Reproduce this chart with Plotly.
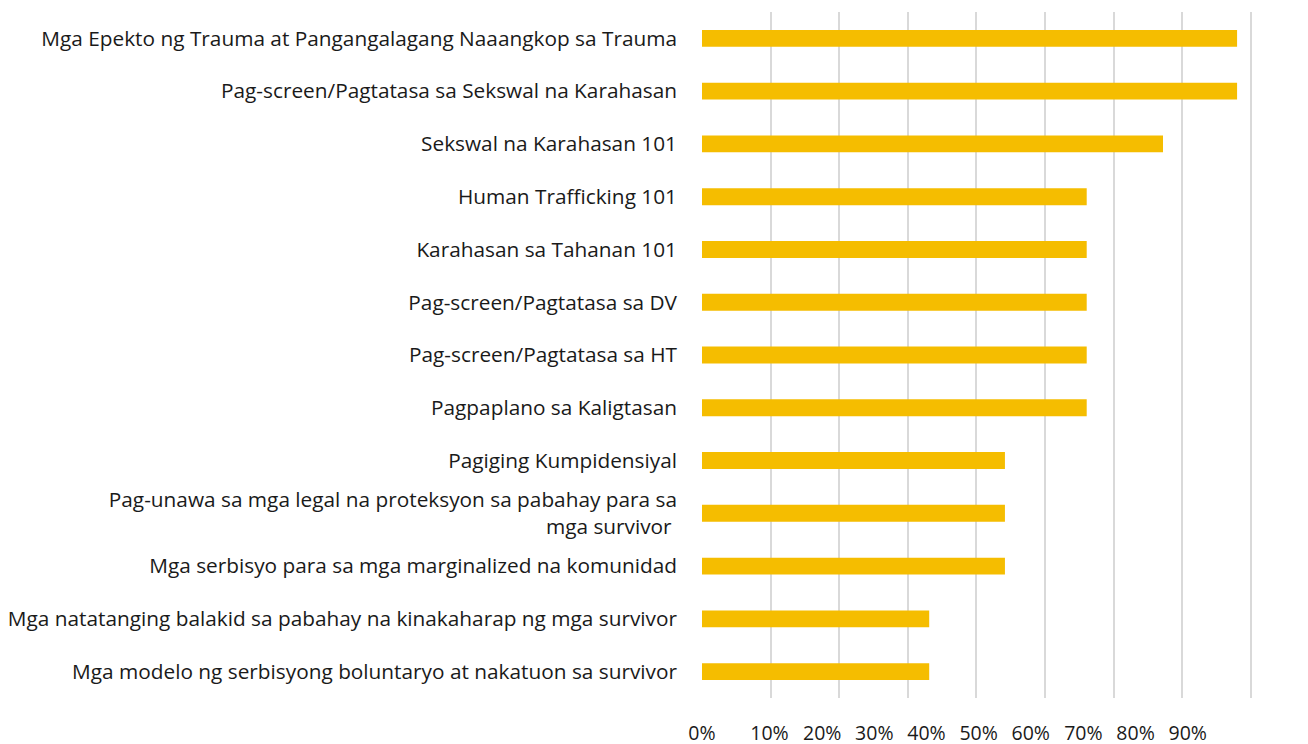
import plotly.graph_objects as go

categories = [
    "Mga Epekto ng Trauma at Pangangalagang Naaangkop sa Trauma",
    "Pag-screen/Pagtatasa sa Sekswal na Karahasan",
    "Sekswal na Karahasan 101",
    "Human Trafficking 101",
    "Karahasan sa Tahanan 101",
    "Pag-screen/Pagtatasa sa DV",
    "Pag-screen/Pagtatasa sa HT",
    "Pagpaplano sa Kaligtasan",
    "Pagiging Kumpidensiyal",
    "Pag-unawa sa mga legal na proteksyon sa pabahay para sa<br>mga survivor ",
    "Mga serbisyo para sa mga marginalized na komunidad",
    "Mga natatanging balakid sa pabahay na kinakaharap ng mga survivor",
    "Mga modelo ng serbisyong boluntaryo at nakatuon sa survivor",
]
values = [97.5, 97.5, 84.0, 70.1, 70.1, 70.1, 70.1, 70.1, 55.2, 55.2, 55.2, 41.4, 41.4]

tick_labels = ["0%", "10%", "20%", "30%", "40%", "50%", "60%", "70%", "80%", "90%"]
tick_label_pos = [0.0, 12.3, 21.9, 31.4, 40.9, 50.4, 59.9, 69.5, 79.0, 88.5]

FONT = "Open Sans"
FS = 20.8
X_MAX = 100.4
fig = go.Figure()
fig.add_trace(go.Bar(
    y=categories, x=values, orientation="h",
    marker=dict(color="#F5BD00", line=dict(width=0)),
    width=0.32,
))
# invisible trace to activate second axis for the labels
fig.add_trace(go.Scatter(x=[0], y=[categories[0]], xaxis="x2", mode="markers",
                         marker=dict(opacity=0), showlegend=False, hoverinfo="skip"))

fig.update_layout(
    width=1300, height=736,
    margin=dict(l=694, r=55, t=4, b=46, autoexpand=False),
    paper_bgcolor="white", plot_bgcolor="white",
    showlegend=False,
    font=dict(family=FONT, size=FS, color="#1a1a1a"),
    xaxis=dict(range=[0, X_MAX], tickmode="linear", tick0=0, dtick=12.5,
               showgrid=True, gridcolor="#D9D9D9", gridwidth=2, automargin=False,
               showticklabels=False, zeroline=False, showline=False, fixedrange=True),
    xaxis2=dict(range=[0, X_MAX], overlaying="x", side="bottom", tickmode="array",
                tickvals=tick_label_pos, ticktext=tick_labels, showgrid=False,
                zeroline=False, showline=False, ticks="", ticklabelstandoff=21,
                automargin=False,
                tickfont=dict(family=FONT, size=FS - 1.3, color="#1a1a1a")),
    yaxis=dict(categoryorder="array", categoryarray=categories[::-1],
               autorange=False, range=[-0.5, len(categories) - 0.5],
               showgrid=False, zeroline=False, showline=False, ticks="",
               automargin=False,
               ticklabelstandoff=24, tickfont=dict(family=FONT, size=FS, color="#1a1a1a")),
)
fig.write_html("out.html")
